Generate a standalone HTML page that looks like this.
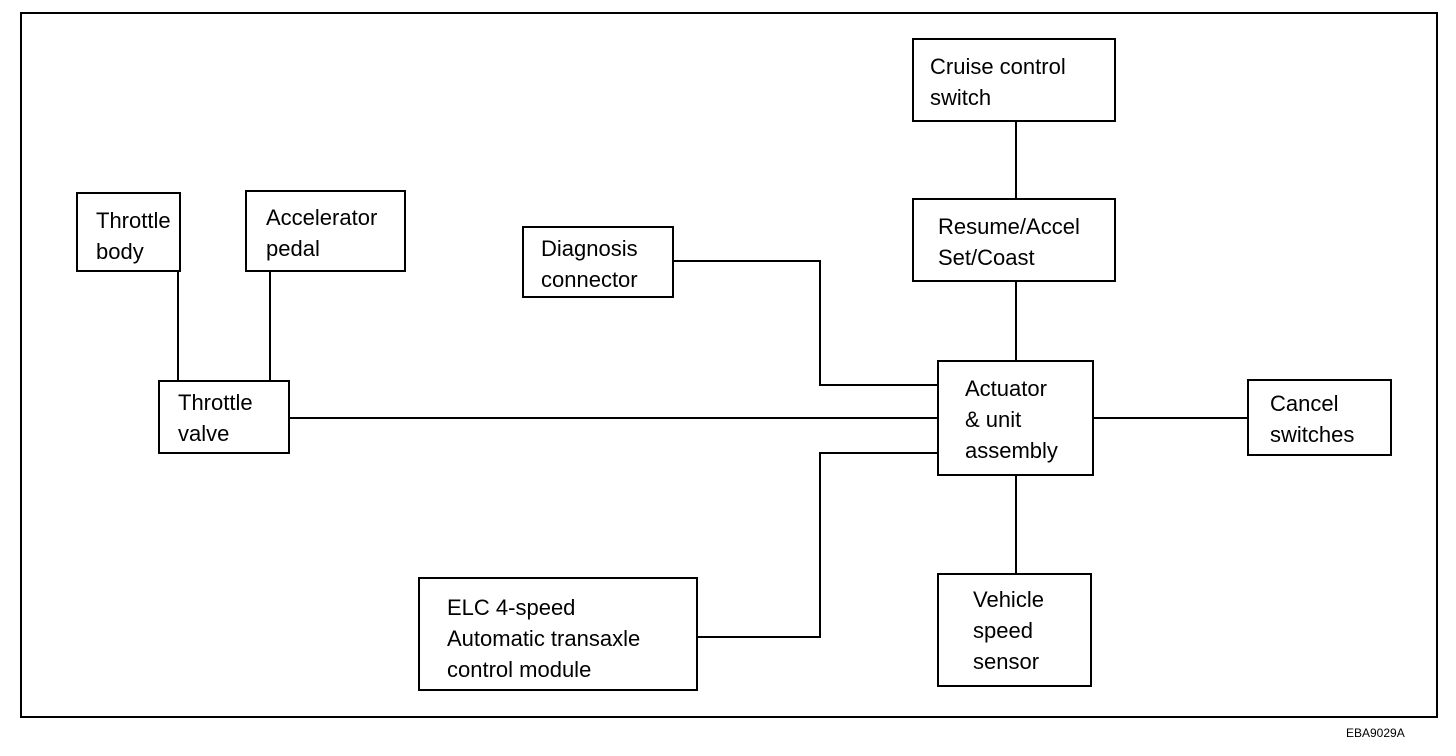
<!DOCTYPE html>
<html><head><style>
body{margin:0;background:#fff;width:1456px;height:756px;overflow:hidden;position:relative;font-family:"Liberation Sans",Arial,sans-serif;}
.b{position:absolute;border:2px solid #000;box-sizing:border-box;font-size:22px;line-height:31px;color:#000;}
.l{position:absolute;background:#000;}
</style></head><body>
<div class="b" style="left:20px;top:12px;width:1418px;height:706px;"></div>
<div class="b" style="left:912px;top:38px;width:204px;height:84px;padding:11px 0 0 16px;">Cruise control<br>switch</div>
<div class="b" style="left:912px;top:198px;width:204px;height:84px;padding:11px 0 0 24px;">Resume/Accel<br>Set/Coast</div>
<div class="b" style="left:937px;top:360px;width:157px;height:116px;padding:11px 0 0 26px;">Actuator<br>&amp; unit<br>assembly</div>
<div class="b" style="left:1247px;top:379px;width:145px;height:77px;padding:7px 0 0 21px;">Cancel<br>switches</div>
<div class="b" style="left:937px;top:573px;width:155px;height:114px;padding:9px 0 0 34px;">Vehicle<br>speed<br>sensor</div>
<div class="b" style="left:418px;top:577px;width:280px;height:114px;padding:13px 0 0 27px;">ELC 4-speed<br>Automatic transaxle<br>control module</div>
<div class="b" style="left:522px;top:226px;width:152px;height:72px;padding:5px 0 0 17px;">Diagnosis<br>connector</div>
<div class="b" style="left:76px;top:192px;width:105px;height:80px;padding:11px 0 0 18px;">Throttle<br>body</div>
<div class="b" style="left:245px;top:190px;width:161px;height:82px;padding:10px 0 0 19px;">Accelerator<br>pedal</div>
<div class="b" style="left:158px;top:380px;width:132px;height:74px;padding:5px 0 0 18px;">Throttle<br>valve</div>
<div class="l" style="left:1015px;top:121px;width:2px;height:78px"></div>
<div class="l" style="left:1015px;top:281px;width:2px;height:80px"></div>
<div class="l" style="left:1015px;top:475px;width:2px;height:99px"></div>
<div class="l" style="left:673px;top:260px;width:148px;height:2px"></div>
<div class="l" style="left:819px;top:260px;width:2px;height:126px"></div>
<div class="l" style="left:819px;top:384px;width:119px;height:2px"></div>
<div class="l" style="left:289px;top:417px;width:649px;height:2px"></div>
<div class="l" style="left:1093px;top:417px;width:155px;height:2px"></div>
<div class="l" style="left:697px;top:636px;width:124px;height:2px"></div>
<div class="l" style="left:819px;top:452px;width:2px;height:186px"></div>
<div class="l" style="left:819px;top:452px;width:119px;height:2px"></div>
<div class="l" style="left:177px;top:271px;width:2px;height:110px"></div>
<div class="l" style="left:269px;top:271px;width:2px;height:110px"></div>
<div style="position:absolute;left:1346px;top:726px;font-size:12px;">EBA9029A</div>
</body></html>
